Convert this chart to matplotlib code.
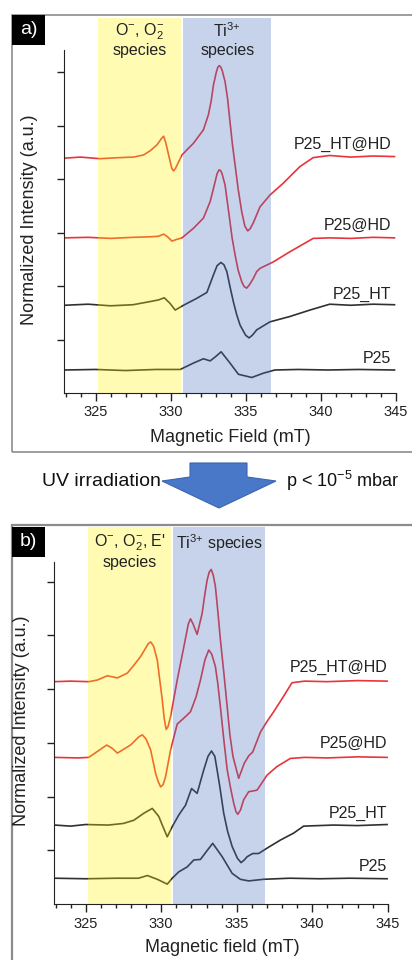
import matplotlib
matplotlib.use("Agg")
import matplotlib.pyplot as plt
from matplotlib.patches import Rectangle, Polygon
from matplotlib.transforms import blended_transform_factory

plt.rcParams['font.family'] = ['Liberation Sans', 'DejaVu Sans']
plt.rcParams['mathtext.default'] = 'regular'

# ---- data (field in mT, normalized intensity in tick units) ----
a_hthd_B = [322.94, 324.0, 325.3, 326.6, 327.54, 328.2, 328.65, 329.1, 329.4, 329.54, 329.68, 329.87,
            330.08, 330.2, 330.33, 330.5, 330.76, 331.53, 332.19, 332.52, 332.7, 332.86, 333.05,
            333.15, 333.25, 333.35, 333.45, 333.63, 333.8, 333.96, 334.12, 334.3, 334.5, 334.74,
            334.95, 335.14, 335.3, 335.51, 335.96, 336.62, 337.5, 338.61, 339.5, 340.6, 342.0,
            343.5, 344.92]
a_hthd_I = [4.39, 4.41, 4.38, 4.40, 4.41, 4.45, 4.53, 4.64, 4.76, 4.80, 4.68, 4.45,
            4.20, 4.15, 4.20, 4.30, 4.45, 4.67, 4.92, 5.20, 5.45, 5.76, 6.00,
            6.09, 6.12, 6.09, 6.02, 5.82, 5.50, 5.07, 4.65, 4.26, 3.82, 3.39,
            3.12, 3.03, 3.07, 3.18, 3.48, 3.70, 3.92, 4.23, 4.40, 4.44, 4.41,
            4.43, 4.42]

a_hd_B = [322.94, 324.5, 326.0, 327.5, 328.65, 329.2, 329.54, 329.8, 330.09, 330.4, 330.76, 331.53,
          332.19, 332.64, 332.82, 332.97, 333.1, 333.23, 333.33, 333.43, 333.63, 333.96, 334.1,
          334.3, 334.5, 334.74, 334.9, 335.07, 335.25, 335.51, 335.74, 335.96, 336.84, 337.95,
          339.5, 340.6, 342.0, 343.5, 344.92]
a_hd_I = [2.90, 2.91, 2.89, 2.91, 2.92, 2.93, 2.97, 2.92, 2.84, 2.87, 2.90, 3.08,
          3.27, 3.58, 3.78, 3.95, 4.10, 4.17, 4.16, 4.10, 3.89, 3.20, 2.90,
          2.58, 2.30, 2.08, 1.99, 1.96, 2.02, 2.14, 2.27, 2.33, 2.45, 2.64,
          2.89, 2.90, 2.89, 2.91, 2.90]

a_ht_B = [322.94, 324.5, 326.0, 327.5, 328.65, 329.2, 329.58, 329.95, 330.31, 330.86, 331.75, 332.42,
          332.86, 333.1, 333.35, 333.55, 333.75, 333.95, 334.18, 334.4, 334.63, 335.0, 335.23,
          335.45, 335.74, 336.62, 337.95, 339.28, 340.6, 342.0, 343.5, 344.92]
a_ht_I = [1.64, 1.66, 1.63, 1.65, 1.71, 1.74, 1.78, 1.68, 1.55, 1.64, 1.77, 1.88,
          2.21, 2.38, 2.44, 2.40, 2.27, 2.00, 1.71, 1.47, 1.27, 1.08, 1.03,
          1.08, 1.18, 1.33, 1.43, 1.55, 1.66, 1.64, 1.66, 1.65]

a_p25_B = [322.94, 325.0, 327.0, 329.0, 330.64, 331.53, 332.19, 332.64, 333.0, 333.37, 333.96,
           334.52, 335.41, 336.18, 336.95, 338.5, 340.5, 342.5, 344.92]
a_p25_I = [0.43, 0.44, 0.42, 0.44, 0.44, 0.56, 0.64, 0.60, 0.68, 0.77, 0.56,
           0.35, 0.29, 0.37, 0.43, 0.44, 0.43, 0.44, 0.43]

b_hthd_B = [322.95, 324.0, 325.2, 325.77, 326.43, 327.1, 327.76, 328.2, 328.64, 329.0, 329.15, 329.3,
            329.5, 329.74, 330.07, 330.2, 330.33, 330.45, 330.62, 331.06, 331.5, 331.8, 331.94,
            332.1, 332.38, 332.71, 332.88, 333.04, 333.18, 333.31, 333.45, 333.59, 333.75, 333.92,
            334.15, 334.37, 334.55, 334.75, 335.13, 335.5, 335.8, 336.06, 336.57, 337.01, 337.45,
            338.11, 338.66, 339.5, 341.0, 343.0, 344.96]
b_hthd_I = [4.14, 4.15, 4.14, 4.17, 4.25, 4.21, 4.30, 4.45, 4.61, 4.78, 4.85, 4.88,
            4.80, 4.54, 3.80, 3.45, 3.25, 3.30, 3.49, 4.17, 4.79, 5.22, 5.31,
            5.22, 5.02, 5.41, 5.75, 6.03, 6.18, 6.23, 6.12, 5.91, 5.45, 4.92,
            4.30, 3.67, 3.15, 2.75, 2.34, 2.62, 2.76, 2.83, 3.20, 3.40, 3.58,
            3.87, 4.12, 4.15, 4.14, 4.16, 4.15]

b_hd_B = [322.95, 324.5, 325.2, 325.77, 326.39, 326.75, 327.1, 327.97, 328.55, 328.75, 329.0, 329.3,
          329.63, 329.8, 329.96, 330.12, 330.29, 330.62, 331.06, 331.61, 331.94, 332.3, 332.6,
          332.9, 333.15, 333.35, 333.59, 333.75, 333.92, 334.15, 334.37, 334.6, 334.8, 334.95,
          335.07, 335.25, 335.46, 335.79, 336.35, 337.01, 337.67, 338.55, 339.5, 341.0, 343.0,
          344.96]
b_hd_I = [2.73, 2.72, 2.73, 2.84, 2.96, 2.90, 2.81, 2.96, 3.12, 3.15, 3.07, 2.87,
          2.43, 2.28, 2.18, 2.22, 2.37, 2.87, 3.35, 3.49, 3.58, 3.85, 4.17,
          4.55, 4.73, 4.65, 4.42, 4.10, 3.67, 3.05, 2.50, 2.15, 1.88, 1.72,
          1.67, 1.75, 1.94, 2.09, 2.12, 2.40, 2.56, 2.71, 2.73, 2.72, 2.74,
          2.73]

b_ht_B = [322.95, 324.0, 325.0, 326.5, 327.5, 328.19, 328.85, 329.41, 329.84, 330.1, 330.4, 330.73,
          331.17, 331.61, 332.01, 332.38, 332.82, 333.1, 333.33, 333.55, 333.7, 333.9, 334.14,
          334.4, 334.7, 335.05, 335.29, 335.5, 335.69, 336.06, 336.45, 337.01, 337.89, 338.77,
          339.43, 341.41, 343.0, 344.96]
b_ht_I = [1.47, 1.45, 1.48, 1.47, 1.50, 1.56, 1.69, 1.78, 1.63, 1.45, 1.25, 1.44,
          1.66, 1.84, 2.15, 2.06, 2.50, 2.75, 2.85, 2.75, 2.50, 2.15, 1.69,
          1.35, 1.07, 0.85, 0.77, 0.82, 0.88, 0.94, 0.94, 1.04, 1.19, 1.32,
          1.45, 1.47, 1.46, 1.48]

b_p25_B = [322.95, 325.0, 327.0, 328.5, 329.08, 329.74, 330.4, 330.73, 331.17, 331.72, 332.16,
           332.6, 333.0, 333.41, 334.04, 334.7, 335.24, 335.79, 336.78, 338.5, 340.5, 342.5, 344.96]
b_p25_I = [0.48, 0.47, 0.48, 0.48, 0.53, 0.46, 0.37, 0.48, 0.60, 0.69, 0.82,
           0.83, 0.98, 1.13, 0.88, 0.57, 0.46, 0.43, 0.46, 0.48, 0.47, 0.48, 0.47]

names = ['P25_HT@HD', 'P25@HD', 'P25_HT', 'P25']
label_y_a = [4.64, 3.14, 1.85, 0.65]
label_y_b = [4.41, 3.00, 1.69, 0.69]
bands_a = [(325.18, 330.67), (330.85, 336.7)]
bands_b = [(325.18, 330.67), (330.8, 336.9)]

RED = '#e8343c'
BLACK = '#303030'
YELLOW = '#fff500'
BLUE = '#4870c0'

W, H = 412, 960
fig = plt.figure(figsize=(W / 100, H / 100), dpi=100)


def box(x0, y0, x1, y1):
    # pixel box (y down) -> figure fraction rect
    return [x0 / W, 1 - y1 / H, (x1 - x0) / W, (y1 - y0) / H]


def panel(rect, ytop, spine_top, curves, label_y, label_x, bands, heads):
    ax = fig.add_axes(rect)
    colors = [RED, RED, BLACK, BLACK]
    for (B, I), c in zip(curves, colors):
        ax.plot(B, I, color=c, lw=1.2, zorder=2, solid_joinstyle='round')
    for (lo, hi), col in zip(bands, [YELLOW, BLUE]):
        ax.axvspan(lo, hi, color=col, alpha=0.3, lw=0, zorder=3)
    for n, y in zip(names, label_y):
        ax.text(label_x, y, n, ha='right', va='center', fontsize=11.5, color='#222', zorder=5)
    tr = blended_transform_factory(ax.transData, ax.transAxes)
    for x, y, s in heads:
        ax.text(x, y, s, transform=tr, ha='center', va='center', fontsize=11.5, color='#222', zorder=5)
    ax.set_xlim(322.9, 345)
    ax.set_ylim(0, ytop)
    ax.set_xticks([325, 330, 335, 340, 345])
    ax.set_xticks(range(323, 346), minor=True)
    ax.set_yticks([1, 2, 3, 4, 5, 6])
    ax.set_yticklabels([])
    ax.tick_params(axis='x', which='major', length=6, width=1, labelsize=10.5, colors='#222', pad=3)
    ax.tick_params(axis='x', which='minor', length=3, width=1, colors='#222')
    ax.tick_params(axis='y', length=5, width=1, colors='#222')
    ax.spines['top'].set_visible(False)
    ax.spines['right'].set_visible(False)
    ax.spines['left'].set_bounds(0, spine_top)
    for s in ['left', 'bottom']:
        ax.spines[s].set_color('#222')
    ax.patch.set_alpha(0)
    return ax


# panel a
ax1 = panel(box(64, 18, 395.7, 393), 7.01, 6.41,
            [(a_hthd_B, a_hthd_I), (a_hd_B, a_hd_I), (a_ht_B, a_ht_I), (a_p25_B, a_p25_I)],
            label_y_a, 344.72, bands_a,
            [(327.93, 0.963, r'O$^{-}$, O$_2^{-}$'), (327.93, 0.913, 'species'),
             (333.78, 0.966, r'Ti$^{3{+}}$'), (333.78, 0.913, 'species')])

# panel b
ax2 = panel(box(54, 527, 387.7, 904), 7.02, 6.37,
            [(b_hthd_B, b_hthd_I), (b_hd_B, b_hd_I), (b_ht_B, b_ht_I), (b_p25_B, b_p25_I)],
            label_y_b, 344.98, bands_b,
            [(327.93, 0.957, r"O$^{-}$, O$_2^{-}$, E'"), (327.93, 0.905, 'species'),
             (333.85, 0.957, r'Ti$^{3{+}}$ species')])

# axis labels
fig.text(230 / W, 1 - 437 / H, 'Magnetic Field (mT)', ha='center', va='center', fontsize=13, color='#222')
fig.text(222 / W, 1 - 947 / H, 'Magnetic field (mT)', ha='center', va='center', fontsize=13, color='#222')
fig.text(30 / W, 1 - 220 / H, 'Normalized Intensity (a.u.)', rotation=90, ha='center', va='center',
         fontsize=13, color='#222')
fig.text(22 / W, 1 - 721 / H, 'Normalized Intensity (a.u.)', rotation=90, ha='center', va='center',
         fontsize=13, color='#222')

# panel frames and letter boxes
fig.add_artist(Rectangle((12 / W, 1 - 452 / H), 420 / W, 437 / H, transform=fig.transFigure,
                         fill=False, ec='#8c8c8c', lw=1.2))
fig.add_artist(Rectangle((12 / W, -0.05), 420 / W, 1 - 525 / H + 0.05, transform=fig.transFigure,
                         fill=False, ec='#8c8c8c', lw=1.6))
for y0, s in [(15, 'a)'), (527, 'b)')]:
    fig.add_artist(Rectangle((12 / W, 1 - (y0 + 30) / H), 33 / W, 30 / H, transform=fig.transFigure,
                             fc='black', ec='none'))
    fig.text(28.5 / W, 1 - (y0 + 15) / H, s, color='white', ha='center', va='center', fontsize=14)

# UV arrow between panels
arrow_px = [(190, 463), (247, 463), (247, 477), (276, 481), (219, 508), (162, 481), (190, 477)]
fig.add_artist(Polygon([(x / W, 1 - y / H) for x, y in arrow_px], closed=True,
                       transform=fig.transFigure, fc='#4a78c8', ec='#3a64b0', lw=0.8))
fig.text(161 / W, 1 - 481 / H, 'UV irradiation', ha='right', va='center', fontsize=14, color='#111')
fig.text(286 / W, 1 - 481 / H, r'p < 10$^{-5}$ mbar', ha='left', va='center', fontsize=13, color='#111')

fig.savefig('out.png', dpi=100)
